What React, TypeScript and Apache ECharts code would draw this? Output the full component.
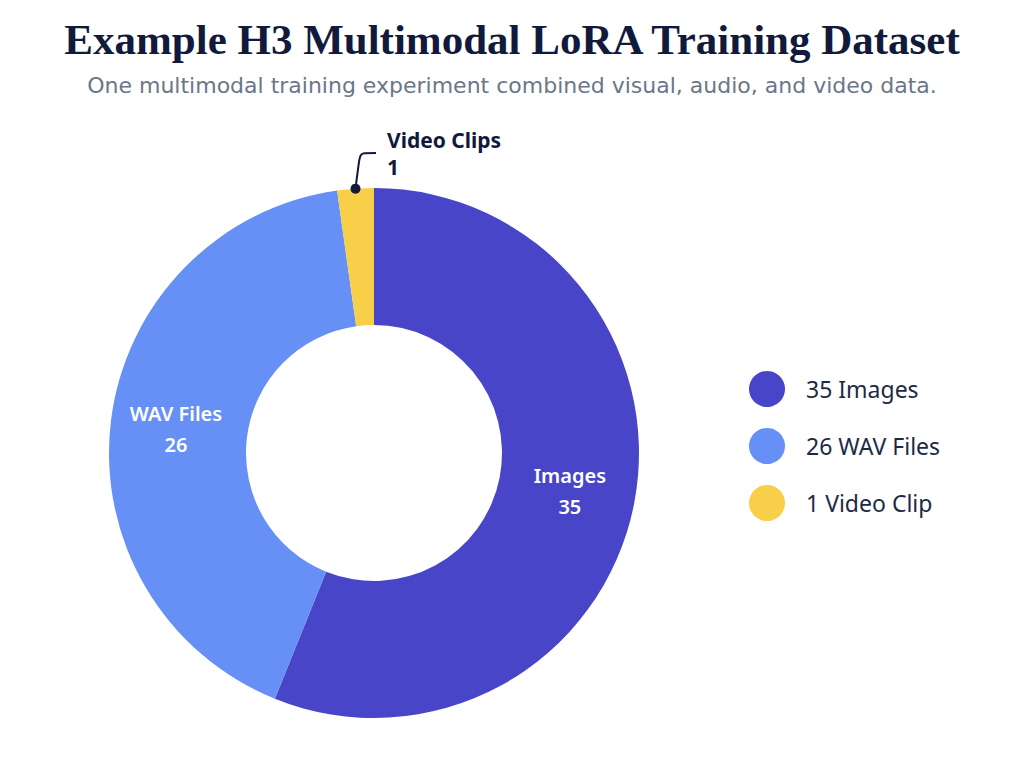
import { useRef, useEffect } from "react";
import * as echarts from "echarts";

// data
const categories = ["Images", "WAV Files", "Video Clips"];
const values = [35, 26, 1];
const legendLabels = ["35 Images", "26 WAV Files", "1 Video Clip"];
const colors = ["#4845c9", "#6690f5", "#f8cf48"];

const CX = 374;
const CY = 453;
const R_IN = 128;
const R_OUT = 265;
const MIN_ANGLE = 8;

const App = () => {
  const chartRef = useRef<HTMLDivElement>(null);

  useEffect(() => {
    const myChart = echarts.init(chartRef.current, null, { renderer: "svg" });

    // 标注点：最后一块（有 minAngle）的中间角
    const total = values.reduce((a, b) => a + b, 0);
    const rawLast = (values[2] / total) * 360;
    const lastAngle = Math.max(rawLast, MIN_ANGLE);
    const lastMid = ((360 - lastAngle / 2) * Math.PI) / 180;
    const dotX = CX + R_OUT * Math.sin(lastMid);
    const dotY = CY - R_OUT * Math.cos(lastMid);

    const option = {
      animation: false,
      backgroundColor: "#ffffff",
      title: [
        {
          text: "Example H3 Multimodal LoRA Training Dataset",
          left: "center",
          top: 13,
          textStyle: {
            fontFamily: "Liberation Serif",
            fontSize: 43,
            fontWeight: "bold",
            color: "#121a3c",
          },
        },
        {
          text: "One multimodal training experiment combined visual, audio, and video data.",
          left: "center",
          top: 69,
          textStyle: {
            fontFamily: "DejaVu Sans",
            fontSize: 22,
            fontWeight: "normal",
            color: "#6b7689",
          },
        },
      ],
      legend: {
        orient: "vertical",
        left: 744,
        top: 366,
        icon: "circle",
        itemWidth: 36,
        itemHeight: 36,
        itemGap: 21,
        data: categories,
        formatter: (name: string) => legendLabels[categories.indexOf(name)],
        textStyle: {
          fontFamily: "Noto Sans",
          fontSize: 23,
          color: "#1e2a45",
          padding: [0, 0, 0, 16],
        },
      },
      graphic: [
        {
          type: "circle",
          shape: { cx: dotX, cy: dotY, r: 5 },
          style: { fill: "#121a3c" },
          z: 100,
        },
      ],
      series: [
        {
          type: "pie",
          center: [CX, CY],
          radius: [R_IN, R_OUT],
          startAngle: 90,
          clockwise: true,
          minAngle: MIN_ANGLE,
          avoidLabelOverlap: false,
          itemStyle: { borderWidth: 0 },
          label: {
            show: true,
            position: "inside",
            formatter: (p: any) => `${p.name}\n${p.value}`,
            color: "#ffffff",
            fontFamily: "Noto Sans",
            fontSize: 20,
            fontWeight: 600,
            lineHeight: 31,
          },
          labelLine: { show: false },
          labelLayout: (p: any) =>
            p.dataIndex === 2
              ? { x: 376, y: 153, align: "left", verticalAlign: "middle" }
              : {},
          data: categories.map((name, i) => ({
            name,
            value: values[i],
            itemStyle: { color: colors[i] },
            ...(i === 2
              ? {
                  label: {
                    position: "outside",
                    color: "#121a3c",
                    fontWeight: "bold",
                    fontSize: 21,
                    lineHeight: 27,
                    padding: [0, 0, 0, 11],
                  },
                  labelLine: {
                    show: true,
                    length: 10,
                    length2: 16,
                    smooth: 0.2,
                    lineStyle: { color: "#121a3c", width: 2 },
                  },
                }
              : {}),
          })),
        },
      ],
    };

    myChart.setOption(option);

    return () => {
      myChart.dispose();
    };
  }, []);

  return (
    <div
      ref={chartRef}
      style={{ position: "absolute", left: 0, top: 0, width: "1024px", height: "768px" }}
    ></div>
  );
};

export default App;
